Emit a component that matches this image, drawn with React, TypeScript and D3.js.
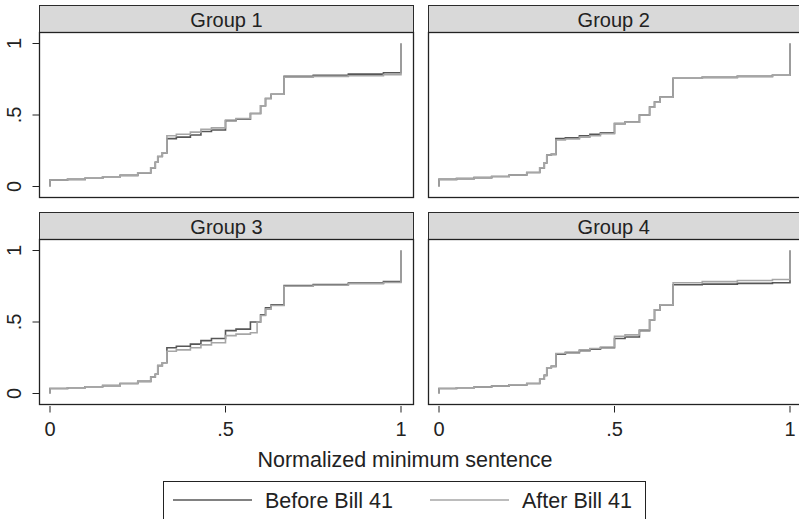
import React from "react";
import * as d3 from "d3";

// break points of the normalized minimum sentence (x) shared by all curves
const xBreaks = [0, 0.05, 0.1, 0.15, 0.2, 0.25, 0.287, 0.3, 0.307, 0.32, 0.333, 0.36, 0.4, 0.43, 0.46, 0.5, 0.53, 0.571, 0.59, 0.6, 0.614, 0.63, 0.667, 0.75, 0.85, 0.95, 1];

// cumulative share at each break point
const g1Before = [0.045, 0.05, 0.058, 0.068, 0.078, 0.095, 0.13, 0.17, 0.21, 0.235, 0.335, 0.345, 0.36, 0.385, 0.395, 0.46, 0.47, 0.51, 0.51, 0.565, 0.615, 0.645, 0.77, 0.778, 0.786, 0.795, 1];
const g1After = [0.045, 0.05, 0.058, 0.068, 0.078, 0.095, 0.13, 0.17, 0.21, 0.235, 0.355, 0.365, 0.38, 0.4, 0.41, 0.465, 0.475, 0.51, 0.51, 0.565, 0.615, 0.645, 0.765, 0.77, 0.775, 0.782, 1];
const g2Before = [0.05, 0.055, 0.062, 0.07, 0.08, 0.098, 0.13, 0.165, 0.22, 0.225, 0.335, 0.34, 0.355, 0.365, 0.375, 0.44, 0.45, 0.5, 0.5, 0.555, 0.59, 0.625, 0.757, 0.763, 0.77, 0.778, 1];
const g2After = [0.05, 0.055, 0.062, 0.07, 0.08, 0.098, 0.13, 0.165, 0.22, 0.225, 0.325, 0.332, 0.345, 0.355, 0.37, 0.44, 0.45, 0.5, 0.5, 0.555, 0.59, 0.625, 0.757, 0.763, 0.77, 0.778, 1];
const g3Before = [0.035, 0.04, 0.047, 0.055, 0.07, 0.085, 0.115, 0.135, 0.195, 0.215, 0.32, 0.33, 0.345, 0.37, 0.385, 0.44, 0.45, 0.5, 0.5, 0.55, 0.6, 0.62, 0.755, 0.762, 0.772, 0.782, 1];
const g3After = [0.035, 0.04, 0.047, 0.055, 0.07, 0.085, 0.115, 0.135, 0.195, 0.215, 0.295, 0.305, 0.32, 0.34, 0.355, 0.405, 0.415, 0.425, 0.5, 0.545, 0.59, 0.615, 0.75, 0.757, 0.767, 0.776, 1];
const g4Before = [0.035, 0.04, 0.045, 0.052, 0.06, 0.07, 0.1, 0.127, 0.18, 0.19, 0.275, 0.285, 0.3, 0.31, 0.32, 0.385, 0.395, 0.44, 0.44, 0.515, 0.585, 0.62, 0.76, 0.765, 0.77, 0.775, 1];
const g4After = [0.035, 0.04, 0.045, 0.052, 0.06, 0.07, 0.1, 0.127, 0.18, 0.19, 0.28, 0.29, 0.305, 0.315, 0.325, 0.4, 0.41, 0.445, 0.445, 0.515, 0.585, 0.62, 0.775, 0.782, 0.79, 0.797, 1];

const groupNames = ["Group 1", "Group 2", "Group 3", "Group 4"];
const groupSeries = [[g1Before, g1After], [g2Before, g2After], [g3Before, g3After], [g4Before, g4After]];
const seriesNames = ["Before Bill 41", "After Bill 41"];
const seriesColors = ["#575757", "#a6a6a6"];
const tickValues = [0, 0.5, 1];
const tickLabels = ["0", ".5", "1"];
const xTitle = "Normalized minimum sentence";

const FONT = "'Liberation Sans', Arial, Helvetica, sans-serif";
const cols = [{ left: 39.5, right: 413.5 }, { left: 428.5, right: 803 }];
const rows = [{ top: 5.5, head: 32.5, bottom: 197.5 }, { top: 212.5, head: 239.5, bottom: 404.5 }];

function Panel({ idx }: { idx: number }) {
  const c = cols[idx % 2];
  const r = rows[Math.floor(idx / 2)];
  const x = d3.scaleLinear().domain([0, 1]).range([c.left + 10.5, c.left + 361.5]);
  const y = d3.scaleLinear().domain([0, 1]).range([r.bottom - 11, r.head + 11]);
  const line = d3
    .line<number>()
    .x((d, i) => (i === 0 ? x(0) : x(xBreaks[i - 1])))
    .y((d) => y(d))
    .curve(d3.curveStepAfter);
  const showX = Math.floor(idx / 2) === 1;
  const showY = idx % 2 === 0;
  return (
    <g>
      <rect x={c.left} y={r.top} width={c.right - c.left} height={r.head - r.top} fill="#d9d9d9" stroke="#2b2b2b" strokeWidth={1} />
      <text x={(c.left + Math.min(c.right, 799)) / 2} y={r.head - 5.5} textAnchor="middle" fontSize={20} fontFamily={FONT} fill="#222">
        {groupNames[idx]}
      </text>
      <rect x={c.left} y={r.head} width={c.right - c.left} height={r.bottom - r.head} fill="#fff" stroke="#222" strokeWidth={1.3} />
      {groupSeries[idx].map((s, k) => (
        <path key={k} d={line([0, ...s]) || ""} fill="none" stroke={seriesColors[k]} strokeWidth={1.6} />
      ))}
      {showY &&
        tickValues.map((v, i) => (
          <g key={"y" + i}>
            <line x1={c.left - 7} x2={c.left} y1={y(v)} y2={y(v)} stroke="#222" strokeWidth={1} />
            <text transform={`translate(${c.left - 19},${y(v)}) rotate(-90)`} textAnchor="middle" fontSize={20} fontFamily={FONT} fill="#222">
              {tickLabels[i]}
            </text>
          </g>
        ))}
      {showX &&
        tickValues.map((v, i) => (
          <g key={"x" + i}>
            <line x1={x(v)} x2={x(v)} y1={r.bottom + 1.5} y2={r.bottom + 8} stroke="#222" strokeWidth={1} />
            <text x={x(v)} y={r.bottom + 31} textAnchor="middle" fontSize={20} fontFamily={FONT} fill="#222">
              {tickLabels[i]}
            </text>
          </g>
        ))}
    </g>
  );
}

export default function App() {
  return (
    <div style={{ position: "absolute", left: 0, top: 0 }}>
      <svg width={799} height={519} style={{ display: "block", background: "#fff" }}>
        {groupNames.map((g, i) => (
          <Panel key={g} idx={i} />
        ))}
        <text x={405} y={467} textAnchor="middle" fontSize={21.5} fontFamily={FONT} fill="#222">
          {xTitle}
        </text>
        <rect x={163.5} y={481.5} width={482} height={50} fill="#fff" stroke="#222" strokeWidth={1} />
        {seriesNames.map((n, i) => (
          <g key={n}>
            <line x1={173 + i * 257} x2={252 + i * 257} y1={500} y2={500} stroke={seriesColors[i]} strokeWidth={1.6} />
            <text x={265 + i * 257} y={508} fontSize={21.5} fontFamily={FONT} fill="#222">
              {n}
            </text>
          </g>
        ))}
      </svg>
    </div>
  );
}
